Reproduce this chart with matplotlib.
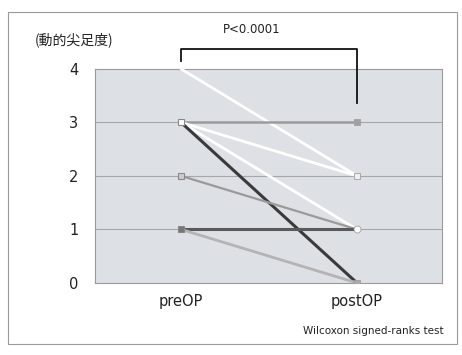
import matplotlib
matplotlib.use("Agg")
import matplotlib.pyplot as plt
from matplotlib.patches import Rectangle

plt.rcParams['font.family'] = ['Noto Sans CJK JP', 'DejaVu Sans']

categories = ["preOP", "postOP"]
pre_values = [4, 3, 3, 3, 3, 2, 1, 1]
post_values = [2, 3, 2, 1, 0, 1, 1, 0]
line_colors = ["#ffffff", "#9a9c9e", "#ffffff", "#ffffff", "#3a3a3a", "#9a9a9a", "#5a5a5a", "#b4b4b4"]
line_widths = [2.0, 1.8, 2.0, 2.0, 2.2, 1.6, 2.2, 2.0]
yticks = [0, 1, 2, 3, 4]
p_text = "P<0.0001"
ylabel_text = "(動的尖足度)"
test_text = "Wilcoxon signed-ranks test"

fig = plt.figure(figsize=(4.62, 3.55), dpi=100)
fig.patch.set_facecolor("white")
fig.add_artist(Rectangle((0.018, 0.03), 0.972, 0.935, transform=fig.transFigure,
                         fill=False, edgecolor="#9a9a9a", linewidth=0.8))

ax = fig.add_axes([0.2056, 0.203, 0.751, 0.603])
ax.set_facecolor("#dde0e5")
ax.set_xlim(-0.489, 1.483)
ax.set_ylim(0, 4)
for y in [1, 2, 3]:
    ax.axhline(y, color="#a4a7ab", linewidth=0.8, zorder=1)

x = [0, 1]
for pv, qv, c, lw in zip(pre_values, post_values, line_colors, line_widths):
    ax.plot(x, [pv, qv], color=c, linewidth=lw, zorder=3, solid_capstyle="round")

# markers
pre_marker_vals = sorted(set(pre_values))
post_marker_vals = sorted(set(post_values))
pre_mcols = {1: "#777777", 2: "#cccccc", 3: "#ffffff", 4: "#ffffff"}
post_mcols = {0: "#aaaaaa", 1: "#ffffff", 2: "#eeeeee", 3: "#a0a0a0"}
for v in pre_marker_vals:
    if v == 4:
        continue
    ax.plot(0, v, marker="s", markersize=5, markerfacecolor=pre_mcols[v],
            markeredgecolor="#888888", markeredgewidth=0.8, zorder=4)
for v in post_marker_vals:
    ax.plot(1, v, marker="o" if v == 1 else "s", markersize=5 if v == 1 else 4,
            markerfacecolor=post_mcols[v], markeredgecolor="#a0a0a0",
            markeredgewidth=0.6, zorder=4)

for s in ax.spines.values():
    s.set_color("#9a9a9a")
    s.set_linewidth(0.8)

ax.set_yticks(yticks)
ax.set_yticklabels([str(t) for t in yticks], fontsize=10.5, color="#222222",
                   family=["DejaVu Sans"])
ax.set_xticks(x)
ax.set_xticklabels(categories, fontsize=10.5, color="#222222", family=["DejaVu Sans"])
ax.tick_params(axis="both", length=0)
ax.tick_params(axis="y", pad=12)
ax.tick_params(axis="x", pad=8)

# significance bracket
ax.plot([0, 0, 1, 1], [4.15, 4.37, 4.37, 3.36], color="#111111", linewidth=1.3,
        clip_on=False, zorder=5)

fig.text(0.545, 0.918, p_text, ha="center", va="center", fontsize=8.5,
         family=["DejaVu Sans"], color="#222222")
fig.text(0.075, 0.887, ylabel_text, ha="left", va="center", fontsize=10,
         color="#222222")
fig.text(0.96, 0.068, test_text, ha="right", va="center", fontsize=7.5,
         family=["DejaVu Sans"], color="#222222")

fig.savefig("out.png", dpi=100)
